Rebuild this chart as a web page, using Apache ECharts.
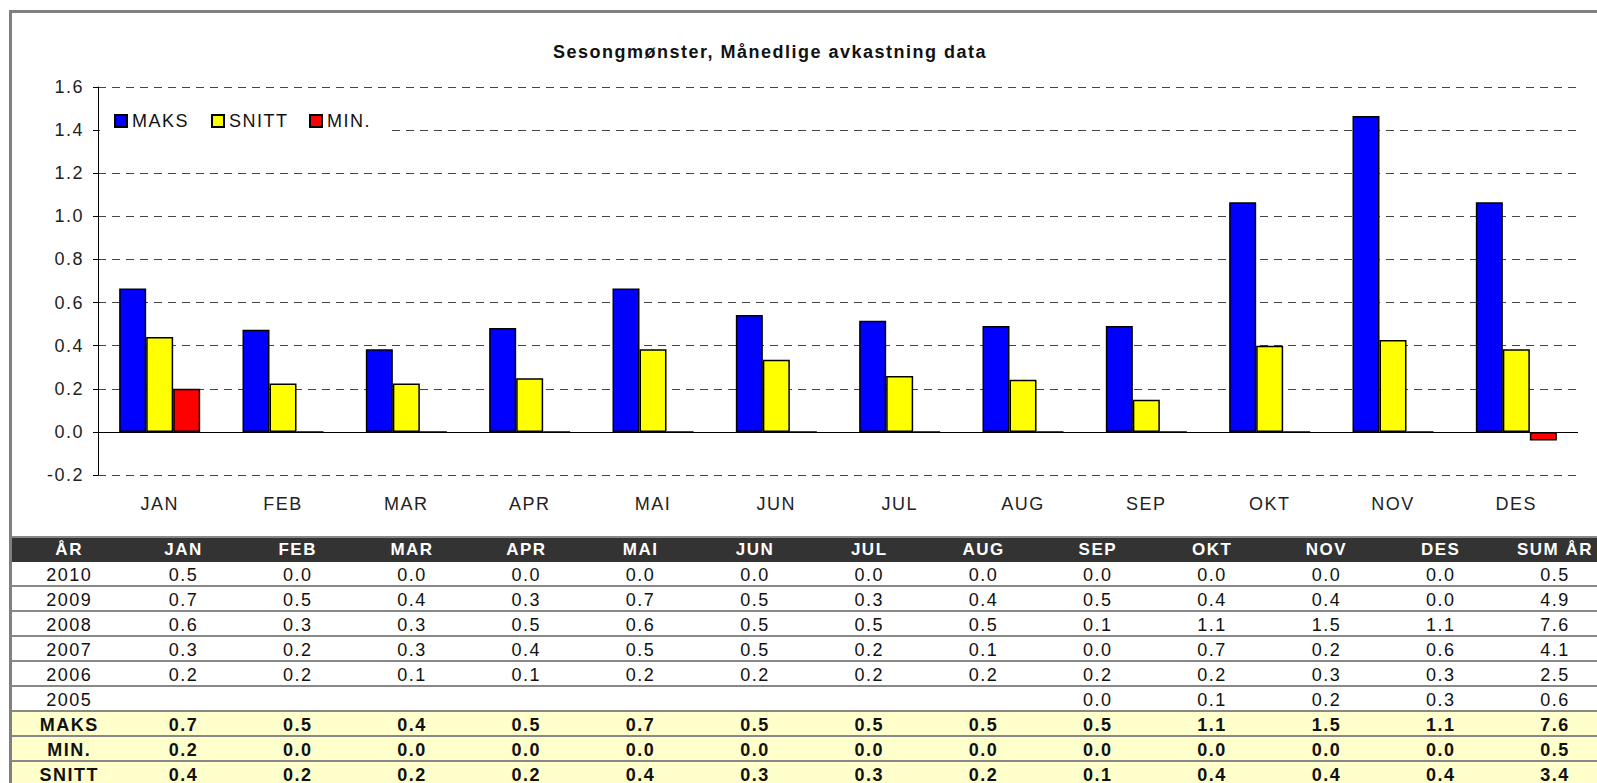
<!DOCTYPE html>
<html>
<head>
<meta charset="utf-8">
<script src="https://cdn.jsdelivr.net/npm/echarts@6/dist/echarts.min.js"></script>
<style>
  body { margin: 0; background: #fff; overflow: hidden; width: 1597px; height: 783px; }
  .frame { position: absolute; left: 9px; top: 10px; width: 1700px; height: 900px; border: 3px solid #808080; }
  #chart { position: absolute; left: 0; top: 0; width: 1700px; height: 536px; }
  #chart text { letter-spacing: 1.5px; }
  .tbl { position: absolute; left: 12px; top: 536px; width: 1600px; border-collapse: separate; border-spacing: 0;
         table-layout: fixed; font-family: 'Liberation Sans', Arial, sans-serif; letter-spacing: 1.5px; }
  .tbl td, .tbl th { width: 114.3px; text-align: center; white-space: nowrap; box-sizing: border-box; }
  .tbl th { background: #333; color: #fff; font-size: 17px; font-weight: bold; height: 26px; line-height: 24px;
            padding: 0; border-top: 2px solid #888; }
  .tbl td { font-size: 18px; color: #111; height: 25px; line-height: 19px; padding: 4px 0 0 0;
            border-bottom: 2px solid #888; background: #fff; }
  .tbl tr.sum td { background: #ffffcc; font-weight: bold; }
</style>
</head>
<body>
<div class="frame"></div>
<div id="chart"></div>
<table class="tbl" id="tbl"></table>
<script>
// bar data
const months = ['JAN', 'FEB', 'MAR', 'APR', 'MAI', 'JUN', 'JUL', 'AUG', 'SEP', 'OKT', 'NOV', 'DES'];
const maks = [0.665, 0.474, 0.383, 0.482, 0.665, 0.542, 0.516, 0.491, 0.491, 1.065, 1.465, 1.065];
const snitt = [0.44, 0.225, 0.225, 0.249, 0.383, 0.335, 0.259, 0.242, 0.149, 0.40, 0.426, 0.383];
const minv = [0.20, 0, 0, 0, 0, 0, 0, 0, 0, 0, 0, -0.04];

// table data
const tableHead = ['ÅR', ...months, 'SUM ÅR'];
const years = ['2010', '2009', '2008', '2007', '2006', '2005'];
const row2010 = ['0.5', '0.0', '0.0', '0.0', '0.0', '0.0', '0.0', '0.0', '0.0', '0.0', '0.0', '0.0', '0.5'];
const row2009 = ['0.7', '0.5', '0.4', '0.3', '0.7', '0.5', '0.3', '0.4', '0.5', '0.4', '0.4', '0.0', '4.9'];
const row2008 = ['0.6', '0.3', '0.3', '0.5', '0.6', '0.5', '0.5', '0.5', '0.1', '1.1', '1.5', '1.1', '7.6'];
const row2007 = ['0.3', '0.2', '0.3', '0.4', '0.5', '0.5', '0.2', '0.1', '0.0', '0.7', '0.2', '0.6', '4.1'];
const row2006 = ['0.2', '0.2', '0.1', '0.1', '0.2', '0.2', '0.2', '0.2', '0.2', '0.2', '0.3', '0.3', '2.5'];
const row2005 = ['', '', '', '', '', '', '', '', '0.0', '0.1', '0.2', '0.3', '0.6'];
const rowMaks = ['0.7', '0.5', '0.4', '0.5', '0.7', '0.5', '0.5', '0.5', '0.5', '1.1', '1.5', '1.1', '7.6'];
const rowMin = ['0.2', '0.0', '0.0', '0.0', '0.0', '0.0', '0.0', '0.0', '0.0', '0.0', '0.0', '0.0', '0.5'];
const rowSnitt = ['0.4', '0.2', '0.2', '0.2', '0.4', '0.3', '0.3', '0.2', '0.1', '0.4', '0.4', '0.4', '3.4'];

const font = "'Liberation Sans', Arial, sans-serif";

const option = {
  animation: false,
  title: {
    text: 'Sesongmønster, Månedlige avkastning data',
    left: 765,
    top: 38,
    textAlign: 'center',
    textStyle: { fontFamily: font, fontSize: 18, fontWeight: 'bold', color: '#111' }
  },
  legend: {
    left: 100,
    top: 104,
    padding: [8, 22, 8, 14],
    backgroundColor: '#fff',
    icon: 'rect',
    itemWidth: 12,
    itemHeight: 12,
    itemGap: 28,
    textStyle: { fontFamily: font, fontSize: 18, color: '#111' },
    data: ['MAKS', 'SNITT', 'MIN.']
  },
  grid: { left: 98, top: 87, width: 1480, height: 388 },
  xAxis: {
    type: 'category',
    data: months,
    axisLine: { show: false },
    axisTick: { show: false },
    axisLabel: { margin: 20, fontFamily: font, fontSize: 18, color: '#222' }
  },
  yAxis: {
    type: 'value',
    min: -0.2,
    max: 1.6,
    interval: 0.2,
    axisLine: { show: true, lineStyle: { color: '#000', width: 1 } },
    axisTick: { show: true, length: 5, lineStyle: { color: '#000' } },
    axisLabel: {
      margin: 14, fontFamily: font, fontSize: 18, color: '#222',
      formatter: v => v.toFixed(1)
    },
    splitLine: { show: true, lineStyle: { color: '#444', type: [8, 6], width: 1 } }
  },
  series: [
    {
      name: 'MAKS', type: 'bar', data: maks, barWidth: 27, barGap: '0%',
      itemStyle: { color: '#0000ff', borderColor: '#000', borderWidth: 1.5 },
      markLine: {
        silent: true, symbol: ['none', 'none'], label: { show: false },
        lineStyle: { color: '#000', type: 'solid', width: 1.2 },
        data: [{ yAxis: 0 }]
      }
    },
    {
      name: 'SNITT', type: 'bar', data: snitt, barWidth: 27, barGap: '0%',
      itemStyle: { color: '#ffff00', borderColor: '#000', borderWidth: 1.5 }
    },
    {
      name: 'MIN.', type: 'bar', data: minv, barWidth: 27, barGap: '0%',
      itemStyle: { color: '#ff0000', borderColor: '#000', borderWidth: 1.5 }
    }
  ]
};

const chart = echarts.init(document.getElementById('chart'), null, { renderer: 'svg' });
chart.setOption(option);

// table under the chart
const tbl = document.getElementById('tbl');
let html = '<tr>' + tableHead.map(h => '<th>' + h + '</th>').join('') + '</tr>';
const yearRows = [row2010, row2009, row2008, row2007, row2006, row2005];
years.forEach((y, i) => {
  html += '<tr><td>' + y + '</td>' + yearRows[i].map(v => '<td>' + v + '</td>').join('') + '</tr>';
});
[['MAKS', rowMaks], ['MIN.', rowMin], ['SNITT', rowSnitt]].forEach(([name, vals]) => {
  html += '<tr class="sum"><td>' + name + '</td>' + vals.map(v => '<td>' + v + '</td>').join('') + '</tr>';
});
tbl.innerHTML = html;
</script>
</body>
</html>
